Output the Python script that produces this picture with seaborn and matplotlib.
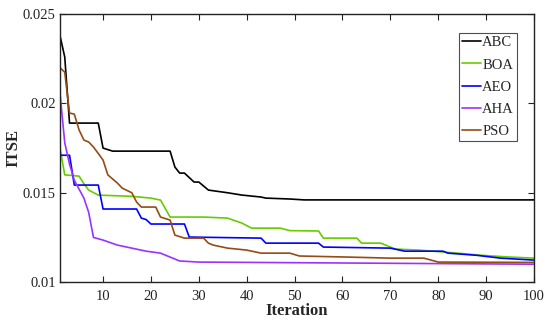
import matplotlib
matplotlib.use("Agg")
import matplotlib.pyplot as plt
import seaborn as sns
import pandas as pd

# ---- data (breakpoints) ----
abc_it = [1, 2, 3, 9, 10, 12, 24, 25, 26, 27, 29, 30, 32, 36, 39, 43, 44, 49, 52, 100]
abc_v = [0.0238, 0.0226, 0.0189, 0.0189, 0.0175, 0.01733, 0.01733, 0.01644, 0.0161, 0.0161,
         0.0156, 0.0156, 0.01515, 0.0150, 0.01487, 0.01476, 0.0147, 0.01465, 0.0146, 0.0146]

boa_it = [1, 2, 5, 6, 7, 9, 16, 20, 22, 24, 31, 36, 39, 41, 47, 49, 55, 56, 63, 64, 68, 71, 76, 84, 89, 95, 100]
boa_v = [0.0175, 0.0160, 0.01593, 0.0155, 0.01515, 0.01487, 0.01480, 0.0147, 0.01459, 0.01364,
         0.01364, 0.01358, 0.0133, 0.01302, 0.01302, 0.01288, 0.01286, 0.01246, 0.01246, 0.01218,
         0.01218, 0.01185, 0.01179, 0.01162, 0.0115, 0.0114, 0.01134]

aeo_it = [1, 3, 4, 9, 10, 17, 18, 19, 20, 27, 28, 43, 44, 55, 56, 70, 73, 81, 82, 88, 93, 100]
aeo_v = [0.0171, 0.0171, 0.01543, 0.01543, 0.01409, 0.01409, 0.01358, 0.01350, 0.01325, 0.01325,
         0.01252, 0.01246, 0.01218, 0.01218, 0.01196, 0.01190, 0.01173, 0.01173, 0.01162, 0.0115,
         0.01134, 0.01123]

aha_it = [1, 2, 3, 4, 5, 6, 7, 8, 10, 13, 16, 19, 22, 24, 26, 30, 100]
aha_v = [0.0206, 0.0178, 0.0166, 0.0157, 0.0152, 0.0147, 0.0139, 0.0125, 0.01235, 0.01207,
         0.0119, 0.01173, 0.01162, 0.0114, 0.01118, 0.01112, 0.0110]

pso_it = [1, 2, 3, 4, 5, 6, 7, 8, 9, 10, 11, 13, 14, 16, 17, 18, 21, 22, 24, 25, 27, 31, 32, 33,
          36, 40, 43, 49, 51, 61, 70, 77, 80, 100]
pso_v = [0.0220, 0.02175, 0.01946, 0.0194, 0.01851, 0.01795, 0.01784, 0.01756, 0.0172, 0.01683,
         0.0160, 0.01554, 0.01526, 0.0150, 0.01448, 0.0142, 0.0142, 0.01364, 0.01347, 0.01263,
         0.01246, 0.01246, 0.01218, 0.01207, 0.0119, 0.01179, 0.01162, 0.01162, 0.01146, 0.0114,
         0.01134, 0.01134, 0.01112, 0.0111]

names = ["ABC", "BOA", "AEO", "AHA", "PSO"]
colors = ["#000000", "#66cc00", "#0000ff", "#9933ff", "#964B12"]
series = [(abc_it, abc_v), (boa_it, boa_v), (aeo_it, aeo_v), (aha_it, aha_v), (pso_it, pso_v)]

xticks = [10, 20, 30, 40, 50, 60, 70, 80, 90, 100]
yticks = [0.01, 0.015, 0.02, 0.025]
yticklabels = ["0.01", "0.015", "0.02", "0.025"]

sns.set_theme(style="white")
plt.rcParams["font.family"] = ["Liberation Serif", "DejaVu Serif"]

fig = plt.figure(figsize=(5.5, 3.28), dpi=100)
ax = fig.add_axes([0.109, 0.140, 0.862, 0.817])

for name, col, (it, v) in zip(names, colors, series):
    df = pd.DataFrame({"Iteration": it, "ITSE": v})
    sns.lineplot(data=df, x="Iteration", y="ITSE", ax=ax, color=col, lw=1.2, label=name)

ax.set_xlim(1, 100)
ax.set_ylim(0.01, 0.025)
ax.set_xticks(xticks)
ax.set_xticklabels([str(t) for t in xticks])
ax.set_yticks(yticks)
ax.set_yticklabels(yticklabels)
ax.tick_params(direction="in", length=4, width=0.8, colors="#222222", labelsize=10.5,
               top=True, right=True, bottom=True, left=True, pad=3)
ax.tick_params(axis="x", pad=6)
for s in ax.spines.values():
    s.set_color("#222222")
    s.set_linewidth(1.0)

ax.set_xlabel("Iteration", fontsize=12, fontweight="bold", labelpad=0)
ax.set_ylabel("ITSE", fontsize=12, fontweight="bold", labelpad=1)

leg = ax.legend(loc="upper right", bbox_to_anchor=(0.964, 0.929), fontsize=10.5,
                frameon=True, fancybox=False, handlelength=1.3, handletextpad=0.1,
                labelspacing=0.62, borderpad=0.2, borderaxespad=0)
leg.get_frame().set_edgecolor("#222222")
leg.get_frame().set_linewidth(0.8)

fig.savefig("out.png", dpi=100)
